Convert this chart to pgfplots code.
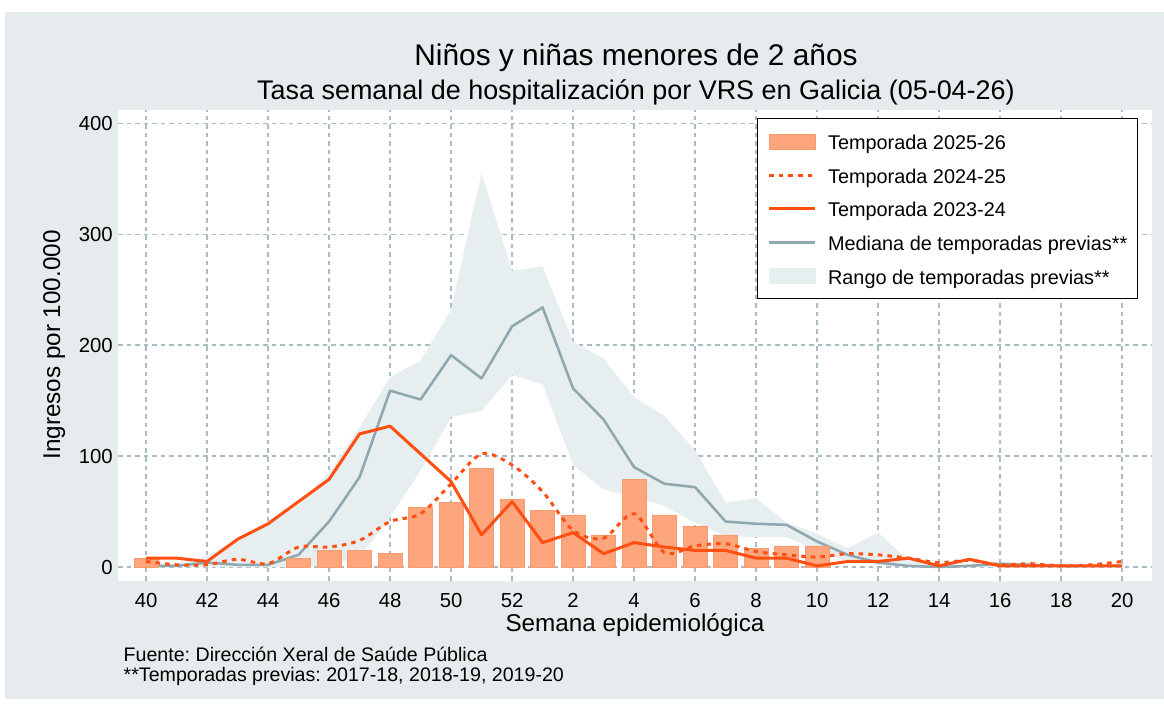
\documentclass[border=0pt]{standalone}
\usepackage{fontspec}
\setmainfont{Liberation Sans}
\usepackage{pgfplots}
\pgfplotsset{compat=1.18}
\definecolor{bgc}{HTML}{E6ECEE}
\definecolor{barc}{HTML}{FDA67E}
\definecolor{baredge}{HTML}{F89C70}
\definecolor{orc}{HTML}{FF4F12}
\definecolor{medc}{HTML}{8FA8AF}
\definecolor{bandc}{HTML}{E6EEF0}
\definecolor{gridc}{HTML}{A9BDC3}
\frenchspacing
\begin{document}
\begin{tikzpicture}[x=0.75pt,y=0.75pt]
\useasboundingbox (0,0) rectangle (1164,709);
\fill[white] (0,0) rectangle (1164,709);
\fill[bgc] (5,10) rectangle (1164,697);
\begin{axis}[
  at={(88.5pt,96pt)}, anchor=south west, scale only axis,
  width=775.5pt, height=353.25pt,
  xmin=-0.92, xmax=32.98, ymin=-12.6, ymax=412,
  axis line style={draw=none},
  major tick length=0pt,
  xtick={0,2,...,32},
  xticklabels={40,42,44,46,48,50,52,2,4,6,8,10,12,14,16,18,20},
  ytick={0,100,200,300,400},
  grid=major,
  major grid style={gridc, dash pattern=on 3.4pt off 3pt, line width=1pt},
  tick label style={font=\fontsize{15.25}{18}\selectfont},
  /pgf/number format/assume math mode=true,
  xticklabel style={anchor=north, inner sep=0pt, yshift=-9pt},
  yticklabel style={anchor=east, inner sep=0pt, xshift=-3.75pt},
  axis background/.style={fill=white},
  legend cell align=left,
  legend style={at={(axis description cs:0.61799,0.98301)}, anchor=north west,
    draw=black, line width=1.1pt, fill=white,
    font=\fontsize{14.9}{16}\selectfont,
    inner xsep=7.5pt, inner ysep=8pt, row sep=7.25pt, column sep=8.5pt,
    nodes={inner sep=0pt, text height=15pt, text depth=3pt}},
]
\addlegendimage{legend image code/.code={\fill[barc,draw=baredge,line width=0.5pt] (0pt,-5.6pt) rectangle (34.5pt,5.6pt);}}
\addlegendentry{Temporada 2025-26}
\addlegendimage{legend image code/.code={\draw[orc,line width=2.25pt,dash pattern=on 3.4pt off 3.8pt] (0pt,0pt) -- (34.5pt,0pt);}}
\addlegendentry{Temporada 2024-25}
\addlegendimage{legend image code/.code={\draw[orc,line width=2.25pt] (0pt,0pt) -- (34.5pt,0pt);}}
\addlegendentry{Temporada 2023-24}
\addlegendimage{legend image code/.code={\draw[medc,line width=1.9pt] (0pt,0pt) -- (34.5pt,0pt);}}
\addlegendentry{Mediana de temporadas previas**\hspace{4pt}}
\addlegendimage{legend image code/.code={\fill[bandc] (0pt,-5.6pt) rectangle (34.5pt,5.6pt);}}
\addlegendentry{Rango de temporadas previas**}

% Range band: upper forward, lower backward
\addplot[fill=bandc, draw=none, forget plot] coordinates {
(0,3) (1,3) (2,10) (3,25) (4,40) (5,57) (6,85) (7,126) (8,171) (9,186) (10,232)
(11,355) (12,267) (13,271) (14,203) (15,188) (16,153) (17,136) (18,105) (19,58)
(20,62) (21,40) (22,30) (23,17) (24,31) (25,6) (26,3) (27,3) (28,4) (29,3) (30,3) (31,2) (32,2)
(32,0) (31,0) (30,0) (29,0) (28,0) (27,0) (26,0) (25,0) (24,2) (23,5) (22,15) (21,27)
(20,27) (19,28) (18,40) (17,55) (16,63) (15,70) (14,92) (13,165) (12,173) (11,141)
(10,135) (9,87) (8,45) (7,9) (6,2) (5,0) (4,0) (3,0) (2,0) (1,0) (0,0)
} -- cycle;

% Median of previous seasons
\addplot[medc, line width=1.9pt, line join=round, forget plot] coordinates {
(0,1) (1,1) (2,4) (3,2) (4,2) (5,11) (6,41) (7,81) (8,159) (9,151) (10,191)
(11,170) (12,217) (13,234) (14,161) (15,133) (16,90) (17,75) (18,72) (19,41)
(20,39) (21,38) (22,23) (23,11) (24,4) (25,1) (26,0) (27,1) (28,3) (29,2) (30,1) (31,1) (32,1)
};

% Season 2025-26 bars
\addplot[ybar, bar width=18pt, bar shift=0pt, fill=barc, draw=baredge, line width=0.5pt, forget plot] coordinates {
(0,8) (5,8) (6,15) (7,15) (8,12) (9,54) (10,58) (11,89) (12,61) (13,51) (14,47)
(15,29) (16,79) (17,47) (18,37) (19,29) (20,17) (21,19) (22,19)
};

% Season 2024-25 (dashed, smooth)
\addplot[orc, line width=2.25pt, dash pattern=on 3.4pt off 3.8pt, smooth, tension=0.5, forget plot] coordinates {
(0,5) (1,2) (2,2) (3,7) (4,3) (5,18) (6,18) (7,24) (8,41) (9,48) (10,75)
(11,102) (12,92) (13,68) (14,33) (15,26) (16,48) (17,13) (18,19) (19,21)
(20,14) (21,11) (22,9) (23,12) (24,11) (25,8) (26,4) (27,6) (28,2) (29,3) (30,1) (31,2) (32,5)
};

% Season 2023-24
\addplot[orc, line width=2.25pt, line join=round, forget plot] coordinates {
(0,8) (1,8) (2,5) (3,25) (4,39) (5,59) (6,79) (7,120) (8,127) (9,102) (10,77)
(11,29) (12,59) (13,22) (14,31) (15,12) (16,22) (17,18) (18,15) (19,15)
(20,8) (21,8) (22,1) (23,5) (24,5) (25,8) (26,1) (27,7) (28,1) (29,1) (30,1) (31,1) (32,1)
};
\end{axis}
\node[anchor=base, font=\fontsize{22.4}{26}\selectfont] at (636,643) {Niños y niñas menores de 2 años};
\node[anchor=base, font=\fontsize{20.2}{23}\selectfont] at (636,609) {Tasa semanal de hospitalización por VRS en Galicia (05-04-26)};
\node[anchor=base, font=\fontsize{18.2}{21}\selectfont] at (635,77) {Semana epidemiológica};
\node[anchor=base, rotate=90, font=\fontsize{18.2}{21}\selectfont] at (60,364) {Ingresos por 100.000};
\node[anchor=base west, font=\fontsize{14.7}{17}\selectfont] at (119,47) {Fuente: Dirección Xeral de Saúde Pública};
\node[anchor=base west, font=\fontsize{14.7}{17}\selectfont] at (119,27) {**Temporadas previas: 2017-18, 2018-19, 2019-20};
\end{tikzpicture}
\end{document}
